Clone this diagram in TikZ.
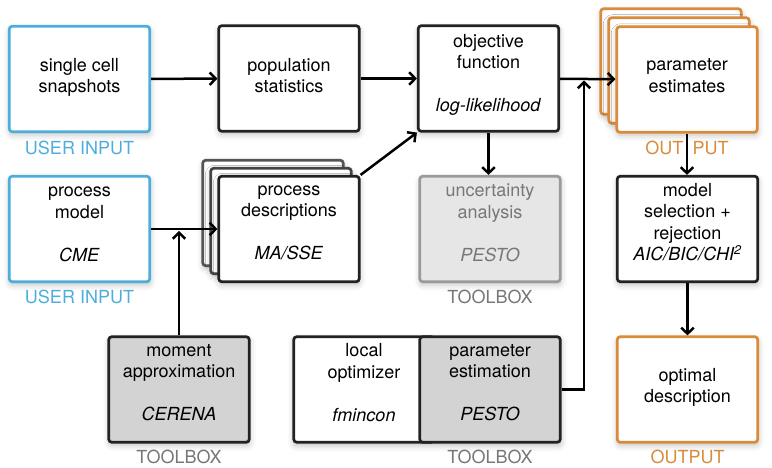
\documentclass[tikz,border=0pt]{standalone}
\usepackage{fontspec}
\setmainfont{TeX Gyre Heros}
\usetikzlibrary{arrows.meta,shadows.blur}

\definecolor{ublue}{HTML}{4DAEDC}
\definecolor{uorange}{HTML}{D88B3A}
\definecolor{dk}{HTML}{222222}
\definecolor{gfill}{HTML}{D3D3D3}
\definecolor{ufill}{HTML}{E6E6E6}
\definecolor{uedge}{HTML}{9A9A9A}
\definecolor{utext}{HTML}{777777}
\definecolor{stackgrey}{HTML}{555555}

\tikzset{
  shd/.style={blur shadow={shadow xshift=0.5pt, shadow yshift=-3pt, shadow blur radius=6pt, shadow opacity=25}},
  box/.style={draw=dk, line width=2.7pt, rounded corners=3pt, fill=white,
    minimum width=140.5pt, minimum height=105.5pt, inner sep=0pt},
  txt/.style={font=\fontsize{18}{21.5}\selectfont, align=center, inner sep=0pt, text=black},
  lab/.style={font=\fontsize{18}{21.5}\selectfont, inner sep=0pt},
  arr/.style={line width=2.5pt, draw=black, -{Straight Barb[length=6pt,width=12.5pt]}},
}

\begin{document}
\begin{tikzpicture}[x=1pt,y=-1pt]
\useasboundingbox (0,0) rectangle (772,468);

% ---- row 1
\node[box, shd, draw=ublue] (ssc) at (79.5,79) {};
\node[txt] (ssc-t) at (79.5,77.5) {\strut single cell\\snapshots\strut};
\node[lab, text=ublue] (ssc-l) at (79.5,148) {USER INPUT};

\node[box, shd] (pop) at (289,78.5) {};
\node[txt] (pop-t) at (289,77.5) {\strut population\\statistics\strut};

\node[box, shd] (obj) at (488.5,78.5) {};
\node[txt] (obj-t) at (488.5,75) {\strut objective\\function\\[21.5pt]\textit{log-likelihood}\strut};

\node[box, shd, draw=uorange] (pe1) at (671,61.5) {};
\node[box, shd, draw=uorange] (pe2) at (679,70.5) {};
\node[box, shd, draw=uorange] (pe) at (687,79.5) {};
\node[txt] (pe-t) at (687,77) {\strut parameter\\estimates\strut};
\node[lab, text=uorange] (pe-l) at (687,148) {OUT\hspace{9.5pt}PUT};

% ---- row 2
\node[box, shd, draw=ublue] (pm) at (79.5,229) {};
\node[txt] (pm-t) at (79.5,224.5) {\strut process\\model\\[21.5pt]\textit{CME}\strut};
\node[lab, text=ublue] (pm-l) at (79.5,297) {USER INPUT};

\node[box, shd, draw=stackgrey] (pd1) at (273,213) {};
\node[box, shd, draw=stackgrey!80!black] (pd2) at (281,221) {};
\node[box, shd] (pd) at (289,229) {};
\node[txt] (pd-t) at (289,223) {\strut process\\descriptions\\[21.5pt]\textit{MA/SSE}\strut};

\node[box, shd, draw=uedge, fill=ufill] (unc) at (490,229) {};
\node[txt, text=utext] (unc-t) at (490,224.5) {\strut uncertainty\\analysis\\[21.5pt]\textit{PESTO}\strut};
\node[lab, text=utext] (unc-l) at (490,297) {TOOLBOX};

\node[box, shd] (ms) at (687.5,229) {};
\node[txt] (ms-t) at (687.5,224) {\strut model\\selection +\\rejection\\\textit{AIC/BIC/CHI\textsuperscript{2}}\strut};

% ---- row 3
\node[box, shd, fill=gfill] (ma) at (179,389.5) {};
\node[txt] (ma-t) at (179,384) {\strut moment\\approximation\\[21.5pt]\textit{CERENA}\strut};
\node[lab, text=utext] (ma-l) at (179,457) {TOOLBOX};

\path[shd, fill=white, rounded corners=3pt] (293.25,336.25) rectangle (560.75,442.75);
\node[box] (lo) at (364,389.5) {};
\node[txt] (lo-t) at (364,384.5) {\strut local\\optimizer\\[21.5pt]\textit{fmincon}\strut};
\node[box, fill=gfill] (pest) at (490,389.5) {};
\node[txt] (pest-t) at (490,384) {\strut parameter\\estimation\\[21.5pt]\textit{PESTO}\strut};
\node[lab, text=utext] (pest-l) at (490,457) {TOOLBOX};

\node[box, shd, draw=uorange] (od) at (687.5,389.5) {};
\node[txt] (od-t) at (687.5,387.5) {\strut optimal\\description\strut};
\node[lab, text=uorange] (od-l) at (687.5,457) {OUTPUT};

% ---- connectors
\coordinate (j) at (584,80.5);
\coordinate (k) at (179,231);
\draw[arr] (ssc) -- (pop);
\draw[arr] (pop) -- (obj);
\draw[arr] (obj) -- (pe);
\draw[arr] (pm) -- (pd);
\draw[arr] (ma.north) -- (k);
\draw[arr] (pd.north east) -- (obj.south west);
\draw[arr] (obj.south) -- (obj.south |- unc.north);
\draw[arr] (pest.east) -| (j);
\draw[arr] (pe.south) -- (pe.south |- ms.north);
\draw[arr] (ms.south) -- (ms.south |- od.north);
\end{tikzpicture}
\end{document}
